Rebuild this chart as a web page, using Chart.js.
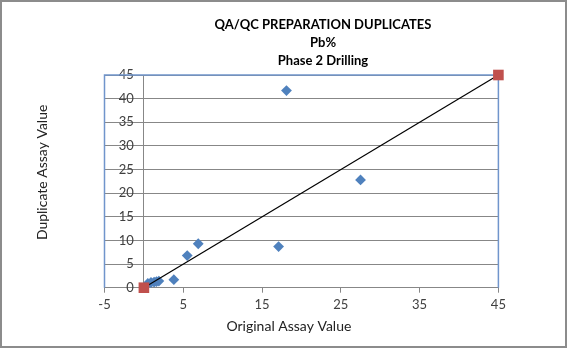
<!DOCTYPE html>
<html>
<head>
<meta charset="utf-8">
<script src="https://cdn.jsdelivr.net/npm/chart.js@4.4.1/dist/chart.umd.min.js"></script>
<style>
  html, body { margin: 0; padding: 0; background: #fff; }
  #wrap { width: 567px; height: 348px; }
</style>
</head>
<body>
<div id="wrap"><canvas id="chart" width="567" height="348"></canvas></div>
<script>
// chart data
const titleLines = ['QA/QC PREPARATION DUPLICATES', 'Pb%', 'Phase 2 Drilling'];
const xTitle = 'Original Assay Value';
const yTitle = 'Duplicate Assay Value';

const originalValues  = [0.5, 0.9, 1.3, 1.6, 1.9, 3.8, 5.5, 6.9, 17.1, 18.1, 27.5];
const duplicateValues = [0.9, 1.1, 1.2, 1.3, 1.4, 1.7, 6.8, 9.3, 8.7, 41.7, 22.8];

const lineX = [0, 45];
const lineY = [0, 45];

const xTicks = [-5, 5, 15, 25, 35, 45];
const yTicks = [0, 5, 10, 15, 20, 25, 30, 35, 40, 45];

const FONT = 'Lato, "Open Sans", sans-serif';
const GRID = '#878787';
const FRAME = '#7095cc';

const toPoints = (xs, ys) => xs.map((x, i) => ({ x: x, y: ys[i] }));

// title is drawn by hand so it can sit off-centre like the original
const titlePlugin = {
    id: 'titleText',
    afterDraw(chart) {
        const ctx = chart.ctx;
        ctx.save();
        ctx.fillStyle = '#000';
        ctx.font = 'bold 13px ' + FONT;
        ctx.textAlign = 'center';
        ctx.textBaseline = 'middle';
        titleLines.forEach((t, i) => ctx.fillText(t, 323, 25 + i * 18));
        ctx.restore();
    }
};

// outer border + blue frame of the plot area
const framePlugin = {
    id: 'frame',
    beforeDraw(chart) {
        const ctx = chart.ctx;
        ctx.save();
        ctx.fillStyle = '#fff';
        ctx.fillRect(0, 0, chart.width, chart.height);
        ctx.restore();
    },
    beforeDatasetsDraw(chart) {
        const { ctx, chartArea: a } = chart;
        ctx.save();
        ctx.strokeStyle = FRAME;
        ctx.lineWidth = 1.5;
        ctx.beginPath();
        ctx.moveTo(a.left, a.bottom);
        ctx.lineTo(a.left, a.top);
        ctx.lineTo(a.right, a.top);
        ctx.lineTo(a.right, a.bottom);
        ctx.stroke();
        ctx.restore();
    },
    afterDraw(chart) {
        const ctx = chart.ctx;
        ctx.save();
        ctx.strokeStyle = '#8c8c8c';
        ctx.lineWidth = 2;
        ctx.strokeRect(1, 1, chart.width - 2, chart.height - 2);
        ctx.restore();
    }
};

new Chart(document.getElementById('chart'), {
    type: 'scatter',
    data: {
        datasets: [
            {
                label: '1:1',
                data: toPoints(lineX, lineY),
                showLine: true,
                borderColor: '#000',
                borderWidth: 1.2,
                pointStyle: 'rect',
                pointRadius: 7.5,
                pointBackgroundColor: '#c0504d',
                pointBorderColor: '#c0504d',
                pointBorderWidth: 0,
                clip: false
            },
            {
                label: 'Duplicates',
                data: toPoints(originalValues, duplicateValues),
                pointStyle: 'rectRot',
                pointRadius: 5.4,
                pointBackgroundColor: '#4f81bd',
                pointBorderColor: '#4f81bd',
                pointBorderWidth: 0,
                clip: false
            }
        ]
    },
    options: {
        responsive: false,
        animation: false,
        layout: { padding: { left: 20, right: 68.6, top: 75, bottom: 11.6 } },
        plugins: {
            legend: { display: false },
            tooltip: { enabled: false }
        },
        scales: {
            x: {
                type: 'linear',
                position: 'bottom',
                min: -5,
                max: 45,
                afterBuildTicks: s => { s.ticks = xTicks.map(v => ({ value: v })); },
                grid: { drawOnChartArea: false, drawTicks: true, tickLength: 5, color: GRID },
                border: { color: GRID, width: 1 },
                ticks: { color: '#404040', padding: 4, font: { family: FONT, size: 13 } },
                title: {
                    display: true, text: xTitle + '       ', color: '#222',
                    font: { family: FONT, size: 14 }, padding: { top: 1.3, bottom: 2 }
                }
            },
            y: {
                type: 'linear',
                position: 'left',
                min: 0,
                max: 45,
                afterBuildTicks: s => { s.ticks = yTicks.map(v => ({ value: v })); },
                grid: { drawTicks: false, color: GRID, lineWidth: 1 },
                border: { display: false },
                ticks: { display: false },
                title: {
                    display: true, text: '     ' + yTitle, color: '#222',
                    font: { family: FONT, size: 14 }, padding: { top: 13.6, bottom: 54.1 }
                }
            },
            y2: {
                // vertical axis crosses at x = 0, labels sit just left of it
                type: 'linear',
                position: { x: 0 },
                min: 0,
                max: 45,
                afterBuildTicks: s => { s.ticks = yTicks.map(v => ({ value: v })); },
                grid: { drawOnChartArea: false, drawTicks: true, tickLength: 5, color: GRID },
                border: { color: GRID, width: 1 },
                ticks: {
                    color: '#404040', font: { family: FONT, size: 13 },
                    callback: v => v + '   '
                }
            }
        }
    },
    plugins: [framePlugin, titlePlugin]
});
</script>
</body>
</html>
